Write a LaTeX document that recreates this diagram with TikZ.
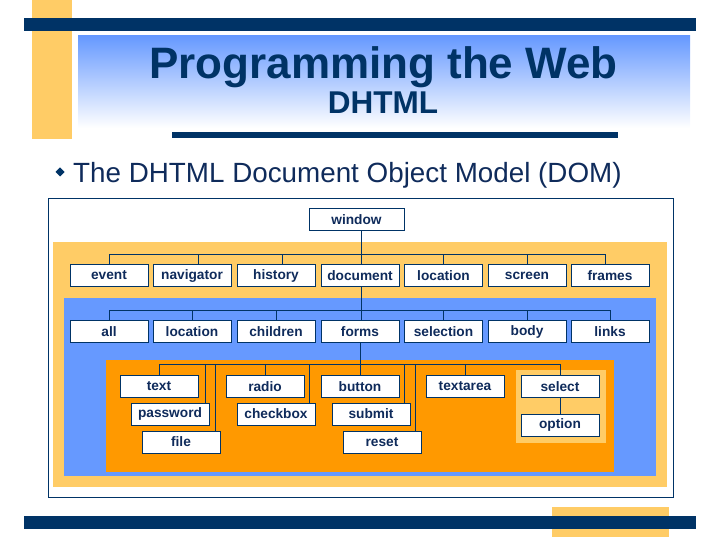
\documentclass[tikz,border=0pt]{standalone}
\usepackage{fontspec}
\setmainfont{Liberation Sans}
\definecolor{navy}{HTML}{003366}
\definecolor{txt}{HTML}{0F2B5B}
\definecolor{ylw}{HTML}{FFCC66}
\definecolor{blu}{HTML}{6699FF}
\definecolor{org}{HTML}{FF9900}
\tikzset{
  obj/.style={draw=navy, line width=1pt, fill=white, minimum width=78pt, minimum height=22pt,
    inner sep=0pt, text=txt, font=\fontsize{13.7}{15}\selectfont\bfseries},
  link/.style={draw=navy, line width=1pt},
  band/.style={fill=navy}
}
\begin{document}
\begin{tikzpicture}[x=1pt,y=-1pt]
\useasboundingbox (0,0) rectangle (720,540);
% header decoration
\fill[ylw] (32,0) rectangle (72,139);
\fill[band] (24,18) rectangle (696,31);
\shade[top color=blu, bottom color=white] (78,36) rectangle (690,128);
\node[anchor=base, inner sep=0pt, text=navy, font=\fontsize{44}{48}\selectfont\bfseries] (title) at (383.5,79) {Programming the Web};
\node[anchor=base, inner sep=0pt, text=navy, font=\fontsize{31.5}{34}\selectfont\bfseries] (sub) at (383,114) {DHTML};
\fill[band] (172,132) rectangle (618,138);
% bullet
\fill[navy] (60,167.5) -- (64.5,172) -- (60,176.5) -- (55.5,172) -- cycle;
\node[anchor=base west, inner sep=0pt, text=txt, font=\fontsize{27.8}{30}\selectfont] (bullet) at (73,182.5) {The DHTML Document Object Model (DOM)};
% footer decoration
\fill[ylw] (552,507) rectangle (669,537);
\fill[band] (24,516) rectangle (696,529);
% diagram frame and layers
\draw[navy, line width=1pt] (48.5,198.5) rectangle (673,497.5);
\fill[ylw] (53,242) rectangle (667,487);
\fill[blu] (64,298) rectangle (656,476);
\fill[org] (106,360) rectangle (614,472);
\fill[ylw] (516,370) rectangle (606,443);
% nodes
\node[obj, minimum width=95pt] (window) at (356.5,220) {window};
\foreach \n/\t/\x in {event/event/109, navigator/navigator/192, history/history/276, document/document/360,
  wlocation/location/443.5, screen/screen/527, frames/frames/610}
  \node[obj] (\n) at (\x,275.5) {\t};
\foreach \n/\t/\x in {all/all/109, dlocation/location/192, children/children/276, forms/forms/360,
  selection/selection/443.5, body/body/527, links/links/610}
  \node[obj] (\n) at (\x,331.5) {\t};
\node[obj] (text) at (159,386.5) {text};
\node[obj] (password) at (170,414) {password};
\node[obj] (file) at (181,442) {file};
\node[obj] (radio) at (265,386.5) {radio};
\node[obj] (checkbox) at (276,414) {checkbox};
\node[obj] (button) at (360,386.5) {button};
\node[obj] (submit) at (371,414) {submit};
\node[obj] (reset) at (382,442) {reset};
\node[obj] (textarea) at (465,386.5) {textarea};
\node[obj] (select) at (560,386.5) {select};
\node[obj] (option) at (560,425) {option};
% bus coordinates
\coordinate (bus1) at (0,254);
\coordinate (bus2) at (0,310);
\coordinate (bus3) at (0,364);
% level 1
\coordinate (navT) at ([xshift=6pt]navigator.north);
\coordinate (hisT) at ([xshift=6pt]history.north);
\coordinate (docT) at ([xshift=1pt]document.north);
\coordinate (winB) at ([xshift=4.5pt]window.south);
\coordinate (frT) at ([xshift=-5pt]frames.north);
\draw[link] (winB) -- (docT);
\draw[link] (event.north |- bus1) -- (frT |- bus1);
\foreach \c in {event.north, navT, hisT, wlocation.north, screen.north, frT}
  \draw[link] (\c) -- (\c |- bus1);
% level 2
\coordinate (docB) at ([xshift=1pt]document.south);
\coordinate (formT) at ([xshift=1pt]forms.north);
\draw[link] (docB) -- (formT);
\draw[link] (all.north |- bus2) -- (links.north |- bus2);
\foreach \c in {all.north, dlocation.north, children.north, selection.north, body.north, links.north}
  \draw[link] (\c) -- (\c |- bus2);
% level 3
\draw[link] (forms.south) -- (button.north);
\draw[link] (text.north |- bus3) -- (select.north |- bus3);
\coordinate (pwT) at ([xshift=-4pt]password.north east);
\coordinate (fiT) at ([xshift=-5pt]file.north east);
\coordinate (cbT) at ([xshift=-6pt]checkbox.north east);
\coordinate (suT) at ([xshift=-6pt]submit.north east);
\coordinate (reT) at ([xshift=-6pt]reset.north east);
\foreach \c in {text.north, pwT, fiT, radio.north, cbT, suT, reT, textarea.north, select.north}
  \draw[link] (\c) -- (\c |- bus3);
\draw[link] (select.south) -- (option.north);
\end{tikzpicture}
\end{document}
